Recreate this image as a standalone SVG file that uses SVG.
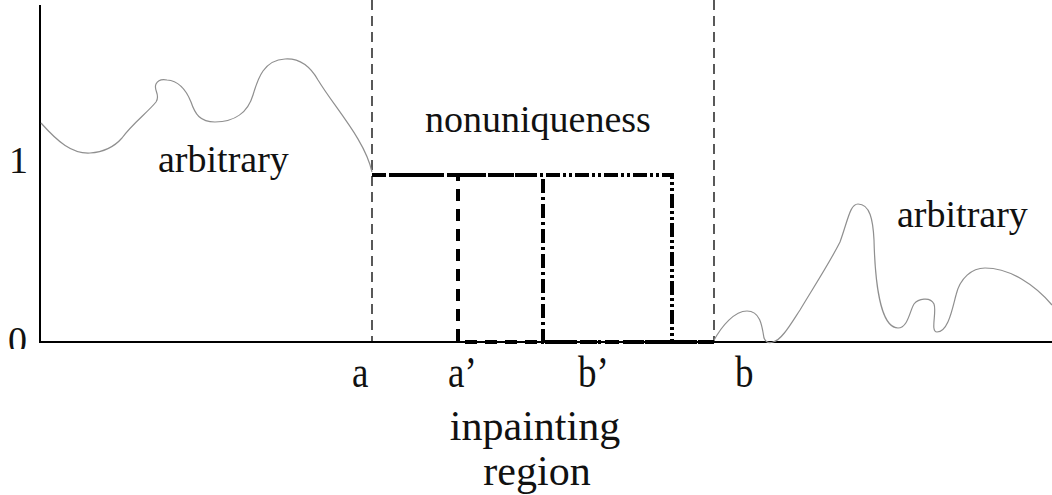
<svg xmlns="http://www.w3.org/2000/svg" width="1052" height="495" viewBox="0 0 1052 495">
<style>
text{font-family:"Liberation Serif","Times New Roman",serif;fill:#111}
.curve{fill:none;stroke:#8f8f8f;stroke-width:1.2}
.axis{fill:none;stroke:#000;stroke-width:2}
.bound{fill:none;stroke:#000;stroke-width:1.3;stroke-dasharray:10,6}
.f{fill:none;stroke:#000;stroke-width:4}
</style>
<defs><clipPath id="clip0"><rect x="0" y="300" width="40" height="49"/></clipPath></defs>
<rect width="1052" height="495" fill="#fff"/>
<g id="axes">
<path class="axis" d="M40,5 V342 H1052"/>
<text x="9" y="173" font-size="38">1</text>
<text x="8" y="353" font-size="38" clip-path="url(#clip0)">0</text>
</g>
<g id="boundaries">
<path class="bound" d="M372,0 V342"/>
<path class="bound" d="M714,0 V342"/>
</g>
<g id="left-curve">
<path class="curve" d="M41,123 C58,142 72,154 90,153 C105,152 115,146 122,138 C132,124 148,112 156,102 C161,95 153,90 156,84 C158,80 162,79 167,80 C180,81 187,92 191,102 C195,114 200,122 215,122 C235,122 248,112 253,95 C258,78 264,60 285,59 C300,58 310,66 318,80 C335,108 365,140 372,172"/>
<text x="158" y="172" font-size="38">arbitrary</text>
</g>
<g id="right-curve">
<path class="curve" d="M713,342 C722,325 735,311 747,311 C760,311 762,325 764,338 C766,343 770,343 773,342 C782,340 792,322 800,310 C815,285 830,262 840,242 C848,220 850,204 858,204 C870,204 873,220 874,240 C875,280 880,328 898,328 C908,328 910,310 914,304 C918,299 930,296 934,304 C937,312 930,332 937,332 C948,332 952,310 956,295 C960,278 972,268 985,268 C1010,268 1035,285 1052,305"/>
<text x="897" y="227" font-size="38">arbitrary</text>
</g>
<g id="solutions">
<path class="f" stroke-dasharray="12,8" d="M372,175 H458 V342 H714"/>
<path class="f" stroke-dasharray="14,4,3,4" d="M372,175 H543 V342 H714"/>
<path class="f" stroke-dasharray="14,3,3,3,3,3" d="M372,175 H672 V342 H714"/>
<text x="425" y="132" font-size="38">nonuniqueness</text>
</g>
<g id="labels">
<text transform="translate(352,387) scale(1,1.18)" font-size="37">a</text>
<text transform="translate(448,387) scale(1,1.18)" font-size="37">a’</text>
<text transform="translate(578,387) scale(1,1.18)" font-size="37">b’</text>
<text transform="translate(735,387) scale(1,1.18)" font-size="37">b</text>
<text x="535" y="440" font-size="42" text-anchor="middle">inpainting</text>
<text x="537" y="485" font-size="42" text-anchor="middle">region</text>
</g>
</svg>
